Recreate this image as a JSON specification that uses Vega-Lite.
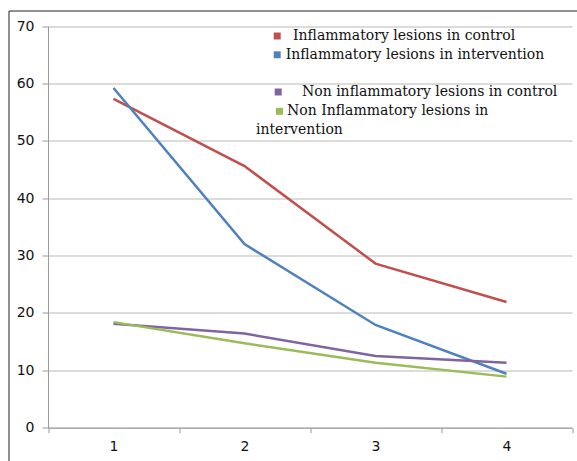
{
  "$schema": "https://vega.github.io/schema/vega-lite/v6.json",
  "width": 569,
  "height": 451,
  "autosize": {"type": "none"},
  "padding": {"left": 8.5, "top": 10.5, "right": 0, "bottom": 0},
  "background": "white",
  "config": {
    "view": {"stroke": "#222", "strokeWidth": 1},
    "axis": {"labelFont": "DejaVu Sans", "labelFontSize": 14, "labelColor": "#111", "title": null},
    "legend": {"labelFont": "DejaVu Serif", "labelFontSize": 14, "labelColor": "#111", "labelLimit": 400, "symbolType": "square", "symbolSize": 1, "symbolStrokeWidth": 6, "symbolOpacity": 1, "padding": 0, "rowPadding": 1, "title": null, "orient": "none"}
  },
  "data": {"values": [
      {"series": "Inflammatory lesions in control", "time": "1", "value": 57.3},
      {"series": "Inflammatory lesions in control", "time": "2", "value": 45.6},
      {"series": "Inflammatory lesions in control", "time": "3", "value": 28.6},
      {"series": "Inflammatory lesions in control", "time": "4", "value": 21.9},
      {"series": "Inflammatory lesions in intervention", "time": "1", "value": 59.2},
      {"series": "Inflammatory lesions in intervention", "time": "2", "value": 32.0},
      {"series": "Inflammatory lesions in intervention", "time": "3", "value": 17.9},
      {"series": "Inflammatory lesions in intervention", "time": "4", "value": 9.4},
      {"series": "Non inflammatory lesions in control", "time": "1", "value": 18.1},
      {"series": "Non inflammatory lesions in control", "time": "2", "value": 16.4},
      {"series": "Non inflammatory lesions in control", "time": "3", "value": 12.5},
      {"series": "Non inflammatory lesions in control", "time": "4", "value": 11.3},
      {"series": "Non Inflammatory lesions in intervention", "time": "1", "value": 18.4},
      {"series": "Non Inflammatory lesions in intervention", "time": "2", "value": 14.7},
      {"series": "Non Inflammatory lesions in intervention", "time": "3", "value": 11.3},
      {"series": "Non Inflammatory lesions in intervention", "time": "4", "value": 8.9}
  ]},
  "encoding": {
    "x": {
      "field": "time", "type": "nominal", "bandPosition": 0.5,
      "scale": {"type": "band", "domain": ["1", "2", "3", "4"], "range": [39.5, 563.5], "paddingInner": 0, "paddingOuter": 0},
      "axis": {"orient": "bottom", "offset": -33.8, "tickBand": "extent", "grid": false, "labelAngle": 0, "tickSize": 5, "labelPadding": 7, "domainColor": "#9a9a9a", "tickColor": "#9a9a9a"}
    },
    "y": {
      "field": "value", "type": "quantitative",
      "scale": {"domain": [0, 70], "range": [417.2, 15.5], "nice": false, "zero": true},
      "axis": {"offset": -39.5, "values": [0, 10, 20, 30, 40, 50, 60, 70], "grid": true, "gridColor": "#b8b8b8", "domainColor": "#9a9a9a", "tickColor": "#9a9a9a", "tickSize": 6, "labelPadding": 8}
    }
  },
  "layer": [
    {
      "transform": [{"filter": "datum.series == 'Inflammatory lesions in control'"}],
      "mark": {"type": "line", "strokeWidth": 2.5},
      "encoding": {
        "color": {
          "field": "series", "type": "nominal",
          "scale": {"domain": ["Inflammatory lesions in control"], "range": ["#C0504D"]},
          "legend": {"legendX": 261.7, "legendY": 18.5, "labelOffset": 8.8}
        }
      }
    },
    {
      "transform": [{"filter": "datum.series == 'Inflammatory lesions in intervention'"}],
      "mark": {"type": "line", "strokeWidth": 2.5},
      "encoding": {
        "color": {
          "field": "series", "type": "nominal",
          "scale": {"domain": ["Inflammatory lesions in intervention"], "range": ["#4F81BD"]},
          "legend": {"legendX": 261.7, "legendY": 37.3, "labelOffset": 1.5}
        }
      }
    },
    {
      "transform": [{"filter": "datum.series == 'Non inflammatory lesions in control'"}],
      "mark": {"type": "line", "strokeWidth": 2.5},
      "encoding": {
        "color": {
          "field": "series", "type": "nominal",
          "scale": {"domain": ["Non inflammatory lesions in control"], "range": ["#8064A2"]},
          "legend": {"legendX": 262.7, "legendY": 74.5, "labelOffset": 16.8}
        }
      }
    },
    {
      "transform": [{"filter": "datum.series == 'Non Inflammatory lesions in intervention'"}],
      "mark": {"type": "line", "strokeWidth": 2.5},
      "encoding": {
        "color": {
          "field": "series", "type": "nominal",
          "scale": {"domain": ["Non Inflammatory lesions in intervention"], "range": ["#9BBB59"]},
          "legend": {"legendX": 247.5, "legendY": 93.8, "symbolOffset": 16.5, "labelOffset": 0.5,
            "labelExpr": "'Non Inflammatory lesions in'",
            "title": "intervention", "titleOrient": "bottom", "titleAnchor": "start", "titleAlign": "left",
            "titleFont": "DejaVu Serif", "titleFontSize": 14, "titleFontWeight": "normal", "titleColor": "#111", "titlePadding": -1.5}
        }
      }
    }
  ],
  "resolve": {"scale": {"color": "independent"}, "legend": {"color": "independent"}}
}
